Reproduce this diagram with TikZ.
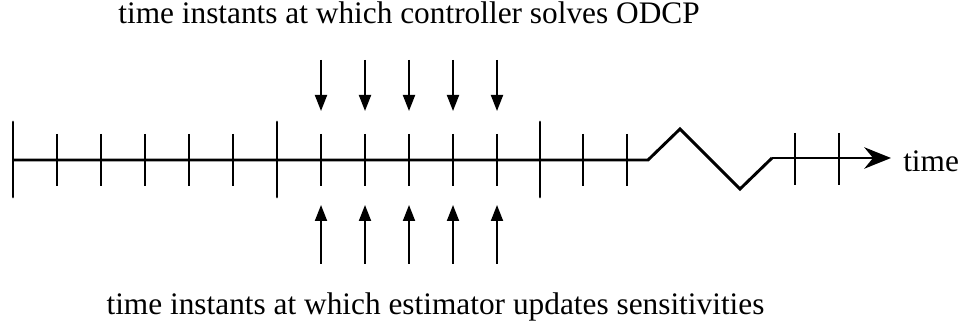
\documentclass[tikz,border=0pt]{standalone}
\usepackage{fontspec}
\setmainfont{Liberation Serif}
\usetikzlibrary{arrows.meta}
\tikzset{
  axisline/.style={line width=2.2pt,line join=miter},
  bigtick/.style={line width=2.2pt,line cap=round},
  smalltick/.style={line width=1.4pt},
  instant/.style={-{Triangle[length=12pt,width=9pt]},line width=1.4pt},
  caption/.style={font=\fontsize{23.5}{28}\selectfont,inner sep=0pt}
}

\begin{document}
\begin{tikzpicture}[x=0.75pt,y=-0.75pt]
  \useasboundingbox (0,0) rectangle (966,327);
  % time axis with the break
  \coordinate (start) at (13,160);
  \coordinate (brk) at (648,160);
  \coordinate (peak) at (680,129);
  \coordinate (dip) at (740,189);
  \coordinate (resume) at (772,158);
  \coordinate (tip) at (891,158);
  \draw[axisline] (start) -- (brk) -- (peak) -- (dip) -- (resume);
  \draw[axisline,-{Stealth[length=20pt,width=16pt]}] (resume) -- (tip);
  \node[caption,anchor=base west] (tlabel) at (903,172) {time};
  % ticks
  \foreach \x in {13,277,540}
    \draw[bigtick] (\x,122) -- (\x,197);
  \foreach \x in {57,101,...,233,321,365,409,453,497,583,627}
    \draw[smalltick] (\x,134) -- (\x,186);
  \foreach \x in {795,839}
    \draw[smalltick] (\x,133) -- (\x,185);
  % instants of the controller and the estimator
  \foreach \x [count=\i] in {321,365,...,497} {
    \coordinate (ctop\i) at (\x,60);
    \coordinate (cend\i) at (\x,111);
    \coordinate (ebot\i) at (\x,264);
    \coordinate (eend\i) at (\x,205);
    \draw[instant] (ctop\i) -- (cend\i);
    \draw[instant] (ebot\i) -- (eend\i);
  }
  \node[caption,anchor=base] (ctrl) at (409,24) {time instants at which controller solves ODCP};
  \node[caption,anchor=base] (est) at (435.5,315) {time instants at which estimator updates sensitivities};
\end{tikzpicture}
\end{document}
